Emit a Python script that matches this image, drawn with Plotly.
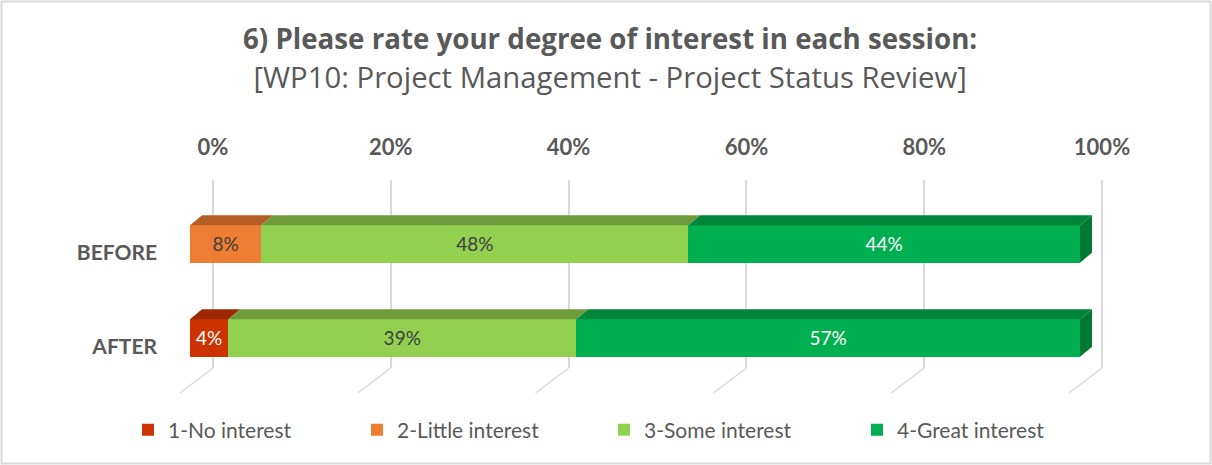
import plotly.graph_objects as go

groups = ["BEFORE", "AFTER"]
levels = ["1-No interest", "2-Little interest", "3-Some interest", "4-Great interest"]
before = [0, 8, 48, 44]
after = [4.3, 0, 39.1, 56.6]
ticks = [0, 20, 40, 60, 80, 100]
tick_text = ["0%", "20%", "40%", "60%", "80%", "100%"]

front = ["#CC3300", "#ED7D31", "#92D050", "#00B050"]
top = ["#9C2600", "#B55E25", "#6E9C3D", "#00853D"]
side = "#007A33"
label_col = ["white", "#404040", "#404040", "white"]

# geometry (px in a 1212x465 canvas)
L, R, T, B = 175, 100, 180, 72
PW = 1212 - L - R
PH = 465 - T - B
bar_w = 0.399
dx, dy = 1.348, 0.1064   # depth of the 3d bars in data units

fig = go.Figure()

# back wall (gridlines) lives on x/y so it is drawn under the bars
fig.add_trace(go.Scatter(x=[None], y=[None], xaxis="x", yaxis="y",
                         showlegend=False, hoverinfo="skip"))

vals = [before, after]
for i, name in enumerate(levels):
    xs = [v[i] for v in vals]
    fig.add_trace(go.Bar(
        y=groups, x=xs, name=name, orientation="h", width=bar_w,
        xaxis="x2", yaxis="y2",
        marker=dict(color=front[i], line=dict(width=0)),
        text=["%d%%" % round(x) if x > 0 else "" for x in xs],
        textposition="inside", insidetextanchor="middle",
        textfont=dict(family="Lato", size=19, color=label_col[i]),
        legend="legend" if i == 0 else "legend%d" % (i + 1),
        hoverinfo="skip",
    ))

# top and side faces
for g, v in enumerate(vals):
    yt = g - bar_w / 2
    yb = g + bar_w / 2
    start = 0
    for i, x in enumerate(v):
        if x <= 0:
            continue
        x0, x1 = start, start + x
        fig.add_shape(type="path", xref="x2", yref="y2",
                      path=f"M{x0},{yt} L{x1},{yt} L{x1+dx},{yt-dy} L{x0+dx},{yt-dy} Z",
                      fillcolor=top[i], line=dict(width=0))
        start = x1
    fig.add_shape(type="path", xref="x2", yref="y2",
                  path=f"M{start},{yt} L{start},{yb} L{start+dx},{yb-dy} L{start+dx},{yt-dy} Z",
                  fillcolor=side, line=dict(width=0))

# floor lines
floor_y = 25 / PH
for t in ticks:
    fig.add_shape(type="path", xref="x", yref="paper",
                  xsizemode="pixel", xanchor=t, ysizemode="pixel", yanchor=floor_y,
                  path="M0,0 L-33,-25", line=dict(color="#D9D9D9", width=1.5), layer="below")

# chart border
fig.add_shape(type="rect", xref="paper", yref="paper",
              x0=(1.5 - L) / PW, x1=(1210.5 - L) / PW,
              y0=(465 - B - 463.5) / PH, y1=(465 - B - 1.5) / PH,
              line=dict(color="#D9D9D9", width=2))

title = ("<span style='font-size:27.7px'><b>6) Please rate your degree of interest in each session:</b></span>"
         "<br><span style='font-size:29.3px'>[WP10: Project Management - Project Status Review]</span>")
fig.add_annotation(text=title, xref="paper", yref="paper",
                   x=(610 - L) / PW, y=(465 - B - 58) / PH,
                   xanchor="center", yanchor="middle", showarrow=False,
                   font=dict(family="Open Sans", size=30, color="#595959"))

leg = dict(orientation="h", xref="container", yref="container", y=1 - 430 / 465,
           yanchor="middle", xanchor="left", bgcolor="rgba(0,0,0,0)",
           font=dict(family="Lato", size=21, color="#595959"))
leg_x = [128, 357, 604, 857]

fig.update_layout(
    width=1212, height=465,
    margin=dict(l=L, r=R, t=T, b=B),
    paper_bgcolor="white", plot_bgcolor="rgba(0,0,0,0)",
    barmode="stack",
    xaxis=dict(type="linear", range=[-4, 101],
               domain=[(177.44 - L) / PW, (1110.9 - L) / PW], anchor="y", side="top",
               tickvals=ticks, ticktext=tick_text, showgrid=True, gridcolor="#D9D9D9",
               gridwidth=1.5, zeroline=False, ticklabelstandoff=20,
               tickfont=dict(family="Lato", size=22, color="#595959", weight="bold")),
    yaxis=dict(domain=[25 / PH, 1], range=[0, 1], visible=False, anchor="x"),
    xaxis2=dict(type="linear", range=[0, 102], domain=[(190 - L) / PW, (1097.8 - L) / PW],
                anchor="y2", showgrid=False, showticklabels=False, zeroline=False),
    yaxis2=dict(range=[1.586, -0.680], domain=[0, 1], anchor="x2", showgrid=False,
                zeroline=False, ticklabelstandoff=32, ticklabelshift=-9,
                tickfont=dict(family="Lato", size=21, color="#595959", weight="bold")),
    legend=dict(leg, x=leg_x[0] / 1212),
    legend2=dict(leg, x=leg_x[1] / 1212),
    legend3=dict(leg, x=leg_x[2] / 1212),
    legend4=dict(leg, x=leg_x[3] / 1212),
)

fig.write_html("out.html", config={"displayModeBar": False},
               post_script="document.body.style.margin='0';")
